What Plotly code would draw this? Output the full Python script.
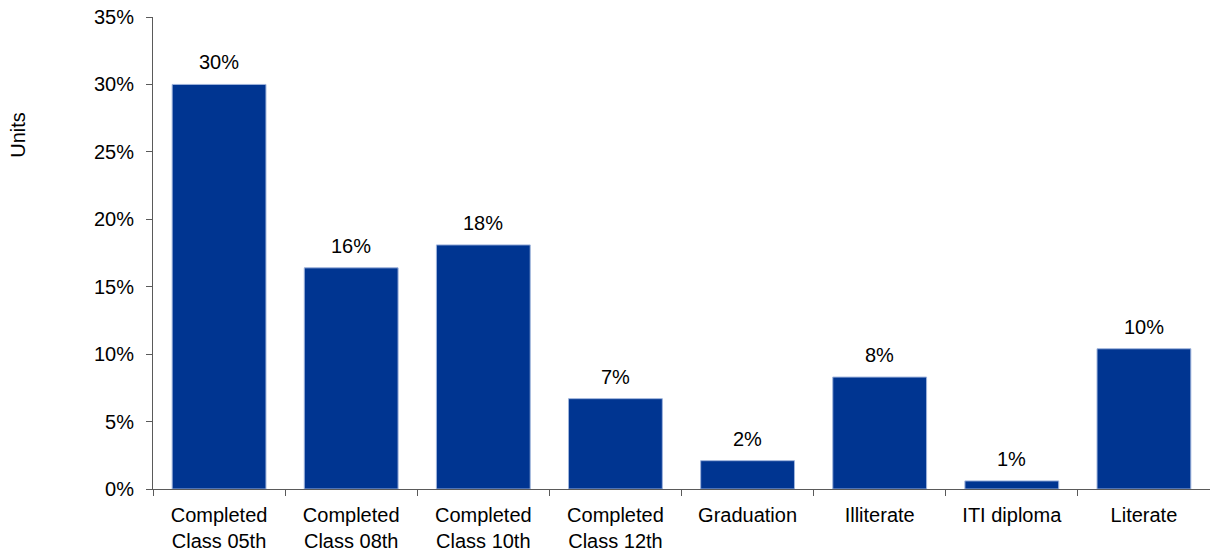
import plotly.graph_objects as go

# education categories and share of units
categories = ["Completed<br>Class 05th", "Completed<br>Class 08th", "Completed<br>Class 10th",
              "Completed<br>Class 12th", "Graduation", "Illiterate", "ITI diploma", "Literate"]
shares = [0.300, 0.164, 0.181, 0.067, 0.021, 0.083, 0.006, 0.104]

font = "Liberation Sans, Arial, sans-serif"
axis_col = "#5a5a5a"

fig = go.Figure(
    go.Bar(
        x=categories,
        y=shares,
        marker=dict(color="#003591", line=dict(color="#9fb4dc", width=1)),
        hoverinfo="skip",
    )
)

# value labels above each bar
for cat, val in zip(categories, shares):
    fig.add_annotation(x=cat, y=val, text=f"{val:.0%}", showarrow=False,
                       yanchor="bottom", yshift=9,
                       font=dict(family=font, size=20, color="#000000"))

fig.add_annotation(text="Units", xref="paper", yref="paper", x=-0.128, y=0.75,
                   xanchor="center", yanchor="middle",
                   textangle=-90, showarrow=False,
                   font=dict(family=font, size=20, color="#000000"))

fig.update_layout(
    width=1210, height=552,
    margin=dict(l=153, r=0, t=17, b=63),
    plot_bgcolor="white", paper_bgcolor="white",
    bargap=0.29,
    showlegend=False,
    font=dict(family=font, size=20, color="#000000"),
)
fig.update_xaxes(showline=True, linecolor=axis_col, linewidth=1,
                 ticks="outside", tickson="boundaries", ticklen=6, tickcolor=axis_col,
                 ticklabelstandoff=8, automargin=False,
                 showgrid=False, tickfont=dict(size=20))
fig.update_yaxes(range=[0, 0.35], dtick=0.05, tickformat=".0%",
                 showline=True, linecolor=axis_col, linewidth=1,
                 ticks="outside", ticklen=6, tickcolor=axis_col,
                 ticklabelstandoff=8, ticklabeloverflow="allow", automargin=False,
                 showgrid=False, zeroline=False, tickfont=dict(size=20))

# drop the default body margin so the figure fills the window
fig.write_html("out.html", config={"displayModeBar": False},
               post_script="document.body.style.margin='0';")
